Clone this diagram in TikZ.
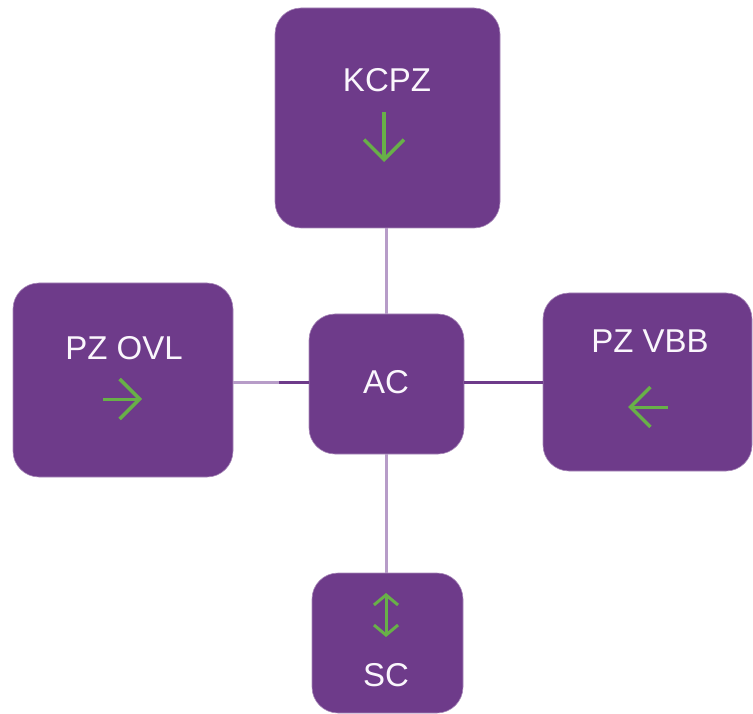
\documentclass[tikz,border=0pt]{standalone}
\usepackage{fontspec}
\setmainfont{Liberation Sans}
\usetikzlibrary{arrows.meta,calc}
\definecolor{boxpurple}{RGB}{110,59,138}
\definecolor{linklight}{RGB}{183,156,200}
\definecolor{icongreen}{RGB}{104,176,72}
\definecolor{textwhite}{RGB}{250,246,252}
\tikzset{
  box/.style={draw=boxpurple!60, line width=0.6pt, fill=boxpurple, rounded corners=26pt, inner sep=0pt},
  link/.style={line width=3pt, linklight},
  linkdark/.style={line width=3pt, boxpurple},
  icon/.style={-{Straight Barb[length=20pt,width=40pt,line width=3.5pt]}, line width=3.5pt, icongreen},
  lbl/.style={text=textwhite, font=\fontsize{33}{38}\selectfont, inner sep=0pt}
}

\begin{document}
\begin{tikzpicture}[x=1pt,y=-1pt]
  \useasboundingbox (0,0) rectangle (753,714);
  % boxes
  \node[box, minimum width=225pt, minimum height=220pt] (kcpz) at (387.5,118) {};
  \node[box, minimum width=220pt, minimum height=194pt] (ovl) at (123,380) {};
  \node[box, minimum width=209pt, minimum height=178pt] (vbb) at (647.5,382) {};
  \node[box, minimum width=155pt, minimum height=140pt] (ac) at (386.5,384) {};
  \node[box, minimum width=151pt, minimum height=140pt] (sc) at (387.5,643) {};
  % links
  \coordinate (ovlmid) at (279,382);
  \draw[link] (kcpz.south -| 386,0) -- (ac.north -| 386,0);
  \draw[link] (ovl.east |- ovlmid) -- (ovlmid);
  \draw[linkdark] (ovlmid) -- (ac.west |- ovlmid);
  \draw[linkdark] (ac.east |- ovlmid) -- (vbb.west |- ovlmid);
  \draw[link] (ac.south -| 386,0) -- (sc.north -| 386,0);
  % labels
  \node[lbl] (kcpztxt) at (387,80) {KCPZ};
  \node[lbl] (ovltxt) at (124,348) {PZ OVL};
  \node[lbl] (vbbtxt) at (650,341) {PZ VBB};
  \node[lbl] (actxt) at (386,382) {AC};
  \node[lbl] (sctxt) at (386,675) {SC};
  % icons
  \draw[icon] ($(kcpz.center)+(-3.5,-6)$) -- ++(0,50);
  \draw[icon, line width=3pt] ($(ovl.center)+(-20,19)$) -- ++(39,0);
  \draw[icon, line width=3pt] ($(vbb.center)+(20.5,25)$) -- ++(-40,0);
  \draw[icongreen, line width=3pt, {Straight Barb[length=10pt,width=24pt,line width=3pt]}-{Straight Barb[length=10pt,width=24pt,line width=3pt]}] ($(sc.center)+(-1.5,-50)$) -- ++(0,44);
\end{tikzpicture}
\end{document}
